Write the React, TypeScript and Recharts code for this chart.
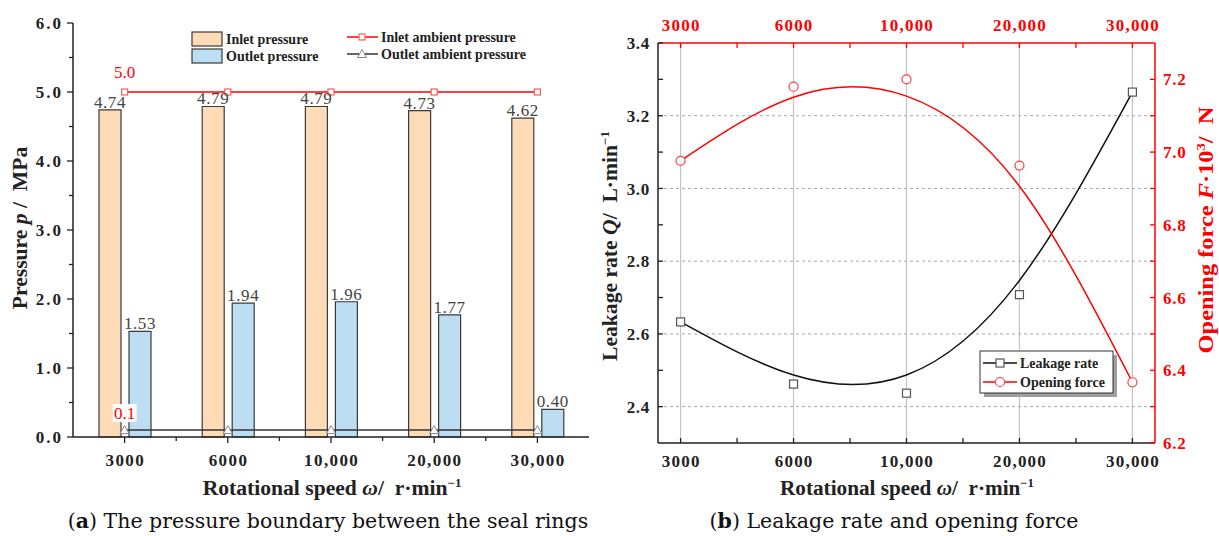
import React from 'react';
import { ComposedChart, Bar, Line, XAxis, YAxis, LabelList, ReferenceLine } from 'recharts';

const SERIF = 'Liberation Serif, Times New Roman, serif';
const CAPTION_FONT = 'DejaVu Serif, serif';

// (a) pressure boundary
const speeds = ['3000', '6000', '10,000', '20,000', '30,000'];
const inletPressure = [4.74, 4.79, 4.79, 4.73, 4.62];
const outletPressure = [1.53, 1.94, 1.96, 1.77, 0.4];
const inletAmbient = [5.0, 5.0, 5.0, 5.0, 5.0];
const outletAmbient = [0.1, 0.1, 0.1, 0.1, 0.1];
const pressureTicks = [0, 0.5, 1, 1.5, 2, 2.5, 3, 3.5, 4, 4.5, 5, 5.5, 6];

// (b) leakage rate and opening force
const leakageRate = [2.633, 2.462, 2.437, 2.708, 3.265];
const leakageFit = [2.633, 2.487, 2.487, 2.747, 3.265];
const openingForce = [6.976, 7.18, 7.2, 6.963, 6.367];
const openingFit = [6.976, 7.151, 7.154, 6.906, 6.367];
const leakTicks = [2.4, 2.5, 2.6, 2.7, 2.8, 2.9, 3.0, 3.1, 3.2, 3.3, 3.4];
const leakGrid = [2.4, 2.6, 2.8, 3.0, 3.2];
const forceTicks = [6.2, 6.3, 6.4, 6.5, 6.6, 6.7, 6.8, 6.9, 7.0, 7.1, 7.2];
const speedTicks = [0, 0.5, 1, 1.5, 2, 2.5, 3, 3.5, 4];

const pressureData = speeds.map((s, i) => ({
  speed: s,
  inlet: inletPressure[i],
  outlet: outletPressure[i],
  inletAmb: inletAmbient[i],
  outletAmb: outletAmbient[i],
}));

const leakData = speeds.map((s, i) => ({
  i,
  leak: leakageRate[i],
  leakFit: leakageFit[i],
  force: openingForce[i],
  forceFit: openingFit[i],
}));

const RED = '#ff0000';
const INK = '#222';

// left chart plot box
const A_W = 600;
const A_H = 480;
const A_PLOT_W = 516;
const BAND = A_PLOT_W / speeds.length;

const bold = (size: number, spacing: number, color: string): React.CSSProperties => ({
  fontFamily: SERIF,
  fontWeight: 'bold',
  fontSize: size,
  letterSpacing: spacing,
  fill: color,
});

const PressureYTick = ({ x = 0, y = 0, payload }: any) => {
  const v = Number(payload.value);
  const major = Number.isInteger(v);
  return (
    <g>
      <line x1={x - (major ? 6 : 4)} x2={x} y1={y} y2={y} stroke={INK} strokeWidth={1.3} />
      {major && (
        <text x={x - 10} y={y} dy="0.36em" textAnchor="end" style={bold(17, 2, INK)}>
          {v.toFixed(1)}
        </text>
      )}
    </g>
  );
};

const SpeedBandTick = ({ x = 0, y = 0, payload, index }: any) => (
  <g>
    <line x1={x} x2={x} y1={y} y2={y + 6} stroke={INK} strokeWidth={1.3} />
    {index < speeds.length - 1 && (
      <line x1={x + BAND / 2} x2={x + BAND / 2} y1={y} y2={y + 4} stroke={INK} strokeWidth={1.3} />
    )}
    <text x={x + 0.7} y={y + 23} dy="0.36em" textAnchor="middle" style={bold(17, 1.4, INK)}>
      {payload.value}
    </text>
  </g>
);

const SquareDot = (stroke: string, size: number) => (p: any) => (
  <rect key={`sq-${p.index}`} x={p.cx - size / 2} y={p.cy - size / 2} width={size} height={size} fill="#fff" stroke={stroke} strokeWidth={1.2} />
);

const TriangleDot = (p: any) => (
  <path key={`tri-${p.index}`} d={`M${p.cx},${p.cy - 4.5} L${p.cx + 4.5},${p.cy + 3.5} L${p.cx - 4.5},${p.cy + 3.5} Z`} fill="#fff" stroke="#888" strokeWidth={1} />
);

const CircleDot = (p: any) => (
  <circle key={`ci-${p.index}`} cx={p.cx} cy={p.cy} r={4.5} fill="#fff" stroke="#ff4040" strokeWidth={1.2} />
);

// only the first point of each ambient line is annotated
const FirstLabel = (offset: number, boxed: boolean) => (p: any) => {
  if (p.index !== 0) return null;
  const text = Number(p.value).toFixed(1);
  return (
    <g>
      {boxed && <rect x={p.x - 12} y={p.y - offset - 9} width={24} height={18} fill="#fff" />}
      <text x={p.x} y={p.y - offset} dy="0.36em" textAnchor="middle" style={{ fontFamily: SERIF, fontSize: 17, fill: RED }}>
        {text}
      </text>
    </g>
  );
};

const barLabelStyle = { fontFamily: SERIF, fontSize: 17, letterSpacing: 0.6 };

const PressureChart = () => (
  <ComposedChart
    width={A_W}
    height={A_H}
    data={pressureData}
    margin={{ top: 23, right: 11, bottom: 13, left: 23 }}
    barSize={22}
    barGap={8}
  >
    <XAxis dataKey="speed" height={30} tick={<SpeedBandTick />} tickSize={0} tickMargin={0} interval={0} axisLine={{ stroke: INK, strokeWidth: 1.5 }} tickLine={false} />
    <XAxis xAxisId="top" dataKey="speed" orientation="top" height={0} tick={false} tickLine={false} axisLine={{ stroke: INK, strokeWidth: 1.5 }} />
    <YAxis domain={[0, 6]} ticks={pressureTicks} width={50} tick={<PressureYTick />} tickSize={0} tickMargin={0} interval={0} axisLine={{ stroke: INK, strokeWidth: 1.5 }} tickLine={false} />
    <YAxis yAxisId="right" orientation="right" width={0} domain={[0, 6]} tick={false} tickLine={false} axisLine={{ stroke: INK, strokeWidth: 1.5 }} />
    <Bar dataKey="inlet" fill="#FDDBB6" stroke="#3a3a3a" strokeWidth={1.2} isAnimationActive={false}>
      <LabelList dataKey="inlet" position="top" offset={2} formatter={(v: any) => Number(v).toFixed(2)} fill="#444" style={barLabelStyle} />
    </Bar>
    <Bar dataKey="outlet" fill="#BCDDF2" stroke="#3a3a3a" strokeWidth={1.2} isAnimationActive={false}>
      <LabelList dataKey="outlet" position="top" offset={2} formatter={(v: any) => Number(v).toFixed(2)} fill="#444" style={barLabelStyle} />
    </Bar>
    <Line dataKey="inletAmb" stroke={RED} strokeWidth={1.5} dot={SquareDot('#ff5a5a', 6)} isAnimationActive={false}>
      <LabelList dataKey="inletAmb" content={FirstLabel(20, false)} />
    </Line>
    <Line dataKey="outletAmb" stroke="#333" strokeWidth={1.5} dot={TriangleDot} isAnimationActive={false}>
      <LabelList dataKey="outletAmb" content={FirstLabel(17, true)} />
    </Line>
  </ComposedChart>
);

// right chart: ticks point into the plot
const BottomTick = ({ x = 0, y = 0, payload }: any) => {
  const v = Number(payload.value);
  const major = Number.isInteger(v);
  return (
    <g>
      <line x1={x} x2={x} y1={y} y2={y - 5} stroke={INK} strokeWidth={1.3} />
      {major && (
        <text x={x + 0.6} y={y + 18} dy="0.36em" textAnchor="middle" style={bold(17, 1.2, INK)}>
          {speeds[v]}
        </text>
      )}
    </g>
  );
};

const TopTick = ({ x = 0, y = 0, payload }: any) => {
  const v = Number(payload.value);
  const major = Number.isInteger(v);
  return (
    <g>
      <line x1={x} x2={x} y1={y} y2={y + 5} stroke={RED} strokeWidth={1.3} />
      {major && (
        <text x={x + 0.6} y={y - 18} dy="0.36em" textAnchor="middle" style={bold(17, 1.2, RED)}>
          {speeds[v]}
        </text>
      )}
    </g>
  );
};

const LeakTick = ({ x = 0, y = 0, payload }: any) => {
  const v = Number(payload.value);
  const major = Math.round(v * 10) % 2 === 0;
  return (
    <g>
      <line x1={x} x2={x + 5} y1={y} y2={y} stroke={INK} strokeWidth={1.3} />
      {major && (
        <text x={x - 8} y={y} dy="0.36em" textAnchor="end" style={bold(17, 0.7, INK)}>
          {v.toFixed(1)}
        </text>
      )}
    </g>
  );
};

const ForceTick = ({ x = 0, y = 0, payload }: any) => {
  const v = Number(payload.value);
  const major = Math.round(v * 10) % 2 === 0;
  return (
    <g>
      <line x1={x - 5} x2={x} y1={y} y2={y} stroke={RED} strokeWidth={1.3} />
      {major && (
        <text x={x + 8} y={y} dy="0.36em" textAnchor="start" style={bold(17, 0.7, RED)}>
          {v.toFixed(1)}
        </text>
      )}
    </g>
  );
};

const LeakageChart = () => (
  <ComposedChart width={619} height={480} data={leakData} margin={{ top: 13, right: 24, bottom: 7, left: 18 }}>
    <XAxis xAxisId="b" type="number" dataKey="i" domain={[-0.2, 4.2]} ticks={speedTicks} interval={0} height={30} tick={<BottomTick />} tickSize={0} tickMargin={0} tickLine={false} axisLine={{ stroke: INK, strokeWidth: 1.5 }} allowDataOverflow />
    <XAxis xAxisId="t" type="number" dataKey="i" orientation="top" domain={[-0.2, 4.2]} ticks={speedTicks} interval={0} height={30} tick={<TopTick />} tickSize={0} tickMargin={0} tickLine={false} axisLine={{ stroke: RED, strokeWidth: 1.5 }} allowDataOverflow />
    <YAxis yAxisId="l" domain={[2.3, 3.4]} ticks={leakTicks} interval={0} width={40} tick={<LeakTick />} tickSize={0} tickMargin={0} tickLine={false} axisLine={{ stroke: INK, strokeWidth: 1.5 }} allowDataOverflow />
    <YAxis yAxisId="r" orientation="right" domain={[6.2, 7.3]} ticks={forceTicks} interval={0} width={40} tick={<ForceTick />} tickSize={0} tickMargin={0} tickLine={false} axisLine={{ stroke: RED, strokeWidth: 1.5 }} allowDataOverflow />
    {leakData.map((d) => (
      <ReferenceLine key={`v${d.i}`} x={d.i} xAxisId="b" yAxisId="l" stroke="#c4c4c4" strokeWidth={1.2} />
    ))}
    {leakGrid.map((g) => (
      <ReferenceLine key={`h${g}`} y={g} xAxisId="b" yAxisId="l" stroke="#aaa" strokeDasharray="3 3" />
    ))}
    <Line xAxisId="b" yAxisId="l" type="natural" dataKey="leakFit" stroke="#111" strokeWidth={1.5} dot={false} isAnimationActive={false} />
    <Line xAxisId="b" yAxisId="r" type="natural" dataKey="forceFit" stroke={RED} strokeWidth={1.5} dot={false} isAnimationActive={false} />
    <Line xAxisId="b" yAxisId="l" dataKey="leak" stroke="none" dot={SquareDot('#555', 8)} isAnimationActive={false} />
    <Line xAxisId="b" yAxisId="r" dataKey="force" stroke="none" dot={CircleDot} isAnimationActive={false} />
  </ComposedChart>
);

// axis titles are stretched along their length with scaleX
const hTitle = (x: number, y: number, k: number): React.CSSProperties => ({
  position: 'absolute',
  left: x,
  top: y,
  fontFamily: SERIF,
  fontWeight: 'bold',
  fontSize: 20,
  lineHeight: 1,
  whiteSpace: 'nowrap',
  color: INK,
  transform: `translate(-50%, -50%) scaleX(${k})`,
});

const vTitle = (x: number, y: number, k: number, color = INK): React.CSSProperties => ({
  ...hTitle(x, y, k),
  color,
  transform: `translate(-50%, -50%) rotate(-90deg) scaleX(${k})`,
});

const captionStyle = (x: number): React.CSSProperties => ({
  position: 'absolute',
  left: x,
  top: 521,
  transform: 'translate(-50%, -50%)',
  fontFamily: CAPTION_FONT,
  fontSize: 20.5,
  lineHeight: 1,
  whiteSpace: 'nowrap',
  color: '#111',
});

const sup: React.CSSProperties = { fontSize: 12, verticalAlign: 'super', lineHeight: 0 };

const legendText: React.CSSProperties = { fontFamily: SERIF, fontWeight: 'bold', fontSize: 14, fill: INK };

const Legends = () => (
  <svg width={1219} height={536} style={{ position: 'absolute', left: 0, top: 0, pointerEvents: 'none' }}>
    {/* pressure legend */}
    <rect x={192} y={32} width={30} height={14} fill="#FDDBB6" stroke="#3a3a3a" strokeWidth={1.2} />
    <text x={226} y={39} dy="0.36em" style={legendText}>Inlet pressure</text>
    <rect x={192} y={49} width={30} height={14} fill="#BCDDF2" stroke="#3a3a3a" strokeWidth={1.2} />
    <text x={226} y={56} dy="0.36em" style={legendText}>Outlet pressure</text>
    <line x1={347} x2={378} y1={37} y2={37} stroke={RED} strokeWidth={1.5} />
    <rect x={359} y={34} width={6} height={6} fill="#fff" stroke="#ff5a5a" strokeWidth={1.2} />
    <text x={381} y={37} dy="0.36em" style={legendText}>Inlet ambient pressure</text>
    <line x1={347} x2={378} y1={54} y2={54} stroke="#333" strokeWidth={1.5} />
    <path d="M362,49.5 L366.5,57.5 L357.5,57.5 Z" fill="#fff" stroke="#888" strokeWidth={1} />
    <text x={381} y={54} dy="0.36em" style={legendText}>Outlet ambient pressure</text>

    {/* leakage legend */}
    <rect x={984} y={355} width={133} height={42} fill="#a0a0a0" />
    <rect x={980} y={351} width={133} height={42} fill="#fff" stroke="#333" strokeWidth={1} />
    <line x1={983} x2={1017} y1={363} y2={363} stroke="#111" strokeWidth={1.5} />
    <rect x={996} y={359} width={8} height={8} fill="#fff" stroke="#555" strokeWidth={1.2} />
    <text x={1020} y={363} dy="0.36em" style={legendText}>Leakage rate</text>
    <line x1={983} x2={1017} y1={382} y2={382} stroke={RED} strokeWidth={1.5} />
    <circle cx={1000} cy={382} r={4.5} fill="#fff" stroke="#ff4040" strokeWidth={1.2} />
    <text x={1020} y={382} dy="0.36em" style={legendText}>Opening force</text>
  </svg>
);

export default function App() {
  return (
    <div style={{ position: 'absolute', left: 0, top: 0, width: 1219, height: 536, background: '#fff' }}>
      <div style={{ position: 'absolute', left: 0, top: 0 }}>
        <PressureChart />
      </div>
      <div style={{ position: 'absolute', left: 600, top: 0 }}>
        <LeakageChart />
      </div>
      <Legends />

      <div style={vTitle(20, 228, 1.08)}>
        Pressure <i>p</i> /&nbsp; MPa
      </div>
      <div style={hTitle(332, 488, 1.08)}>
        Rotational speed <i>ω</i>/&nbsp; r·min<span style={sup}>−1</span>
      </div>
      <div style={vTitle(610, 246, 1.08)}>
        Leakage rate <i>Q</i>/&nbsp; L·min<span style={sup}>−1</span>
      </div>
      <div style={vTitle(1206, 230, 1.22, RED)}>
        Opening force <i>F</i>·10<span style={sup}>3</span>/&nbsp; N
      </div>
      <div style={hTitle(907, 488, 1.06)}>
        Rotational speed <i>ω</i>/&nbsp; r·min<span style={sup}>−1</span>
      </div>

      <div style={captionStyle(328)}>
        (<b>a</b>) The pressure boundary between the seal rings
      </div>
      <div style={captionStyle(894)}>
        (<b>b</b>) Leakage rate and opening force
      </div>
    </div>
  );
}
